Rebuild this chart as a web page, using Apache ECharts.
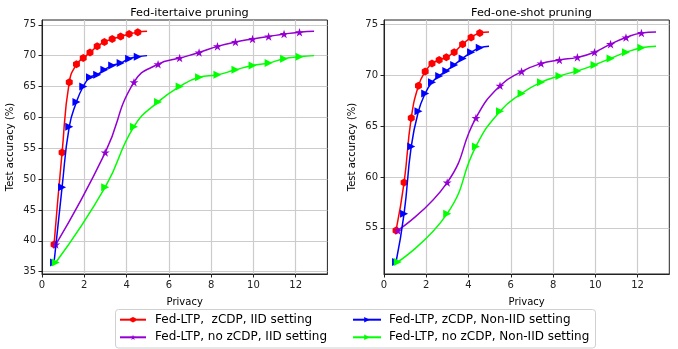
<!DOCTYPE html>
<html>
<head>
<meta charset="utf-8">
<script src="https://cdn.jsdelivr.net/npm/echarts@6/dist/echarts.min.js"></script>
<style>html,body{margin:0;padding:0;background:#fff;}#c{width:678px;height:349px;}</style>
</head>
<body>
<div id="c"></div>
<script>
// ---- data ----
const privacyZcdp   = [0.57, 0.95, 1.29, 1.63, 1.95, 2.27, 2.61, 2.95, 3.32, 3.72, 4.12, 4.53, 4.97];
const privacyNoZcdp = [0.65, 2.99, 4.35, 5.49, 6.51, 7.43, 8.30, 9.15, 9.96, 10.72, 11.45, 12.18, 12.87];

const iterIID       = [39.4, 54.3, 65.7, 68.6, 69.6, 70.5, 71.5, 72.2, 72.7, 73.1, 73.5, 73.8, 73.95];
const iterNonIID    = [36.5, 48.7, 58.5, 62.5, 65.0, 66.5, 66.9, 67.7, 68.4, 68.8, 69.5, 69.8, 70.0];
const oneShotIID    = [54.75, 59.45, 65.8, 68.96, 70.35, 71.15, 71.5, 71.75, 72.25, 73.05, 73.7, 74.15, 74.25];
const oneShotNonIID = [51.65, 56.4, 63.0, 66.45, 68.2, 69.3, 69.93, 70.42, 71.0, 71.65, 72.24, 72.69, 72.85];

const xTicks = [0, 2, 4, 6, 8, 10, 12];
const yTicksLeft = [35, 40, 45, 50, 55, 60, 65, 70, 75];
const yTicksRight = [55, 60, 65, 70, 75];

const titles = ['Fed-itertaive pruning', 'Fed-one-shot pruning'];
const names = ['Fed-LTP,  zCDP, IID setting', 'Fed-LTP, no zCDP, IID setting',
               'Fed-LTP, zCDP, Non-IID setting', 'Fed-LTP, no zCDP, Non-IID setting'];

// ---- styling ----
const FONT = 'DejaVu Sans';
const HEX = 'path://M0,-1 L0.866,-0.5 L0.866,0.5 L0,1 L-0.866,0.5 L-0.866,-0.5 Z';
const TRI = 'path://M0,0 L2,1 L0,2 Z';
const STAR = 'path://M0,-1 L0.2245,-0.309 L0.951,-0.309 L0.363,0.118 L0.588,0.809 L0,0.382 L-0.588,0.809 L-0.363,0.118 L-0.951,-0.309 L-0.2245,-0.309 Z';
const styles = [
  {color: '#ff0000', symbol: HEX, size: [8, 8]},
  {color: '#9400d3', symbol: STAR, size: [9, 9]},
  {color: '#0000ff', symbol: TRI, size: [8, 8]},
  {color: '#00ff00', symbol: TRI, size: [8, 8]}
];

function pts(xs, ys) {
  return xs.map((x, i) => i === xs.length - 1
    ? {value: [x, ys[i]], symbol: 'none'}
    : [x, ys[i]]);
}

function mkSeries(idx, grid, xs, ys) {
  const s = styles[idx];
  return {
    type: 'line', name: names[idx], xAxisIndex: grid, yAxisIndex: grid,
    data: pts(xs, ys), smooth: 0.5, symbol: s.symbol, symbolSize: s.size,
    symbolKeepAspect: true, showAllSymbol: true,
    lineStyle: {color: s.color, width: 1.5}, itemStyle: {color: s.color, borderWidth: 0},
    emphasis: {disabled: true}, animation: false, z: 2 + idx
  };
}

function xAxis(grid) {
  return {
    type: 'value', gridIndex: grid, min: 0, max: 13.5,
    name: 'Privacy', nameLocation: 'middle', nameGap: 23,
    nameTextStyle: {fontFamily: FONT, fontSize: 10, color: '#000'},
    axisLine: {show: true, lineStyle: {color: '#222', width: 1}},
    axisTick: {show: true, length: 3.5, inside: false, customValues: xTicks, lineStyle: {color: '#222'}},
    axisLabel: {customValues: xTicks, margin: 6, fontFamily: FONT, fontSize: 10, color: '#222'},
    splitLine: {show: true, lineStyle: {color: '#cccccc', width: 1.2}}
  };
}
function yAxis(grid, min, max, ticks) {
  return {
    type: 'value', gridIndex: grid, min: min, max: max,
    name: 'Test accuracy (%)', nameLocation: 'middle', nameGap: 27,
    nameTextStyle: {fontFamily: FONT, fontSize: 10, color: '#000'},
    axisLine: {show: true, lineStyle: {color: '#222', width: 1}},
    axisTick: {show: true, length: 3.5, inside: false, customValues: ticks, lineStyle: {color: '#222'}},
    axisLabel: {customValues: ticks, margin: 6, fontFamily: FONT, fontSize: 10, color: '#222'},
    splitLine: {show: true, lineStyle: {color: '#cccccc', width: 1.2}}
  };
}

const chart = echarts.init(document.getElementById('c'), null, {renderer: 'canvas'});
chart.setOption({
  animation: false,
  backgroundColor: '#fff',
  title: [
    {text: titles[0], left: 184.5, top: 3, textAlign: 'center',
     textStyle: {fontFamily: FONT, fontSize: 11.3, fontWeight: 'normal', color: '#000'}},
    {text: titles[1], left: 526.5, top: 3, textAlign: 'center',
     textStyle: {fontFamily: FONT, fontSize: 11.3, fontWeight: 'normal', color: '#000'}}
  ],
  grid: [
    {left: 42, top: 20, width: 285.4, height: 254, show: true, borderColor: '#222', borderWidth: 1, containLabel: false},
    {left: 384, top: 20, width: 285.3, height: 254, show: true, borderColor: '#222', borderWidth: 1, containLabel: false}
  ],
  xAxis: [xAxis(0), xAxis(1)],
  yAxis: [yAxis(0, 34.63, 75.77, yTicksLeft), yAxis(1, 50.47, 75.42, yTicksRight)],
  graphic: [{type: 'rect', shape: {x: 115.5, y: 309.5, width: 480, height: 38.5, r: 3},
             style: {fill: '#fff', stroke: '#d0d0d0', lineWidth: 1}, z: 0}],
  legend: [
    {data: [names[0], names[1]], orient: 'vertical', left: 119, top: 312.7, padding: 0,
     itemWidth: 26, itemHeight: 7, itemGap: 3.6, selectedMode: false,
     textStyle: {fontFamily: FONT, fontSize: 12, lineHeight: 14, color: '#000', padding: [0, 0, 0, 4]}},
    {data: [names[2], names[3]], orient: 'vertical', left: 352, top: 312.7, padding: 0,
     itemWidth: 28, itemHeight: 7, itemGap: 3.6, selectedMode: false,
     textStyle: {fontFamily: FONT, fontSize: 12, lineHeight: 14, color: '#000', padding: [0, 0, 0, 3]}}
  ],
  series: [
    mkSeries(0, 0, privacyZcdp, iterIID),
    mkSeries(1, 0, privacyNoZcdp, iterIID),
    mkSeries(2, 0, privacyZcdp, iterNonIID),
    mkSeries(3, 0, privacyNoZcdp, iterNonIID),
    mkSeries(0, 1, privacyZcdp, oneShotIID),
    mkSeries(1, 1, privacyNoZcdp, oneShotIID),
    mkSeries(2, 1, privacyZcdp, oneShotNonIID),
    mkSeries(3, 1, privacyNoZcdp, oneShotNonIID)
  ]
});
</script>
</body>
</html>
